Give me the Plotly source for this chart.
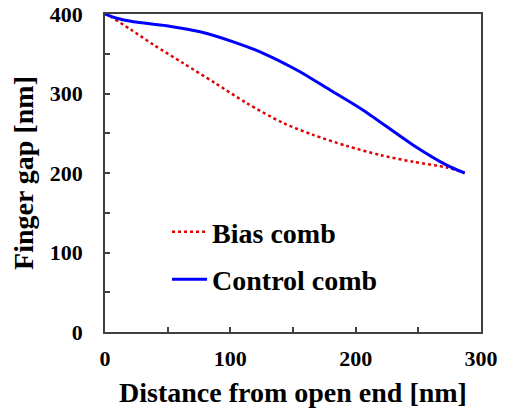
import plotly.graph_objects as go

bias_x = [0, 4, 21, 39, 62.5, 88, 113, 142, 166, 193, 219.5, 246, 272.6, 287]
bias_y = [400, 397, 380, 361, 338, 313, 288, 263, 248, 234, 222.6, 214, 207, 200]

ctrl_x = [0, 9.3, 22.6, 49, 75.8, 102.4, 126.3, 153, 179.6, 206, 246, 272.6, 287]
ctrl_y = [400, 394.6, 390.3, 385.3, 377.7, 365, 350.6, 329.6, 304.4, 279, 235, 210, 200]

x_ticks = [0, 100, 200, 300]
y_ticks = [0, 100, 200, 300, 400]

FONT = "Liberation Serif"

fig = go.Figure()
fig.add_trace(go.Scatter(x=bias_x, y=bias_y, mode="lines", name="Bias comb", legendgroup="a",
                         line=dict(color="#e00000", width=2.5, dash="dot", shape="spline", smoothing=0.8)))
fig.add_trace(go.Scatter(x=ctrl_x, y=ctrl_y, mode="lines", name="Control comb", legendgroup="b",
                         line=dict(color="#0000ff", width=3, shape="spline", smoothing=0.8)))

axis_common = dict(
    showgrid=False, zeroline=False, showline=True, linecolor="#404040", linewidth=1.5,
    mirror=True, ticks="inside", ticklen=5, tickwidth=1.5, tickcolor="#404040",
    tickfont=dict(family=FONT, size=22, color="black", weight="bold"),
    minor=dict(ticks="inside", ticklen=5, tickwidth=1.5, tickcolor="#404040", dtick=50, showgrid=False),
    automargin=False,
)

fig.update_xaxes(range=[0, 300], tickvals=x_ticks, ticktext=[str(v) for v in x_ticks],
                 title=dict(text="Distance from open end [nm]", font=dict(family=FONT, size=28, color="black", weight="bold"), standoff=12),
                 ticklabelstandoff=6, **axis_common)
fig.update_yaxes(range=[0, 400], tickvals=y_ticks, ticktext=[str(v) for v in y_ticks],
                 title=dict(text="Finger gap [nm]", font=dict(family=FONT, size=28, color="black", weight="bold"), standoff=8),
                 ticklabelstandoff=16, **axis_common)

fig.update_layout(
    width=513, height=416,
    margin=dict(l=105, r=32, t=14, b=84),
    plot_bgcolor="white", paper_bgcolor="white",
    legend=dict(x=0.165, y=0.393, xanchor="left", yanchor="top", itemwidth=35,
                font=dict(family=FONT, size=28, color="black", weight="bold"),
                bgcolor="rgba(0,0,0,0)", tracegroupgap=8),
    showlegend=True,
)
fig.write_html("out.html", config={"displayModeBar": False},
               post_script="document.body.style.margin='0';")
